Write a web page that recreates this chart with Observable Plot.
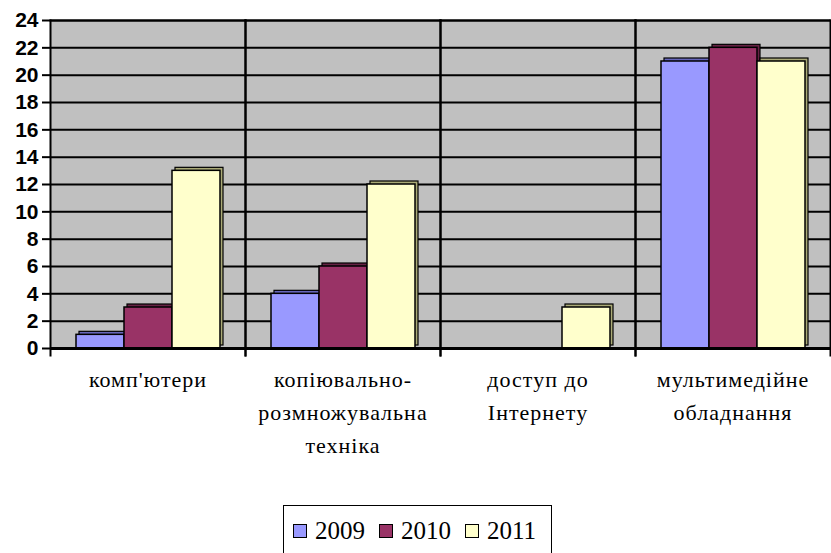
<!DOCTYPE html>
<html>
<head>
<meta charset="utf-8">
<script src="https://cdn.jsdelivr.net/npm/d3@7"></script>
<script src="https://cdn.jsdelivr.net/npm/@observablehq/plot@0.6"></script>
<style>
  html, body { margin: 0; padding: 0; background: #fff; }
  #wrap { position: relative; width: 831px; height: 553px; overflow: hidden; }
  #legend {
    position: absolute; left: 283px; top: 505px; width: 269px; height: 60px;
    border: 1.5px solid #000; box-sizing: border-box;
    font-family: "Liberation Serif", serif; font-size: 25px;
    display: flex; align-items: flex-start; padding-top: 10px; padding-left: 9px;
  }
  .item { display: flex; align-items: center; margin-right: 14px; line-height: 30px; }
  .sw { width: 12px; height: 12px; border: 1.5px solid #000; margin-right: 8px; }
  svg .catlab text, svg text.catlab { letter-spacing: 1px; }
</style>
</head>
<body>
<div id="wrap"><div id="chart"></div><div id="legend"></div></div>
<script>
const categories = ["комп'ютери", "копіювально-\nрозмножувальна\nтехніка", "доступ до\nІнтернету", "мультимедійне\nобладнання"];
const years = ["2009", "2010", "2011"];
const values2009 = [1, 4, 0, 21];
const values2010 = [3, 6, 0, 22];
const values2011 = [13, 12, 3, 21];
const yTicks = [0, 2, 4, 6, 8, 10, 12, 14, 16, 18, 20, 22, 24];
const colors = ["#9999FF", "#993366", "#FFFFCC"];
const sideColors = ["#6666BB", "#662244", "#AAAA77"];

const series = [values2009, values2010, values2011];
const rows = [];
categories.forEach((c, i) => years.forEach((yr, j) => rows.push({category: c, year: yr, value: series[j][i]})));

const chart = Plot.plot({
  width: 831,
  height: 553,
  marginLeft: 50,
  marginRight: 1,
  marginTop: 20,
  marginBottom: 205,
  fx: {domain: categories, paddingInner: 0, paddingOuter: 0, axis: null, label: null},
  x: {domain: years, paddingInner: 0, paddingOuter: 0.53, axis: null, label: null},
  y: {domain: [0, 24], axis: null, label: null},
  color: {domain: years, range: colors},
  style: {background: "transparent"},
  marks: [
    Plot.frame({fill: "#C0C0C0", stroke: null}),
    Plot.gridY(yTicks, {stroke: "#000", strokeOpacity: 1, strokeWidth: 2}),
    Plot.rectY(rows, {fx: "category", x: "year", y: "value", fill: d => sideColors[years.indexOf(d.year)], stroke: "#000", strokeWidth: 1.2, dx: 3, dy: -3}),
    Plot.barY(rows, {fx: "category", x: "year", y: "value", fill: "year", stroke: "#000", strokeWidth: 1.5}),
    Plot.frame({anchor: "left", stroke: "#000", strokeWidth: 2, insetBottom: -7}),
    Plot.frame({anchor: "right", stroke: "#000", strokeWidth: 2, insetBottom: -7}),
    Plot.frame({anchor: "top", stroke: "#000", strokeWidth: 2}),
    Plot.ruleY([0], {stroke: "#000", strokeWidth: 3}),
    Plot.axisY(yTicks, {tickSize: 8, tickPadding: 4, strokeWidth: 2, stroke: "#000", fill: "#000", label: null,
      fontSize: 21, fontWeight: "bold", fontFamily: "Liberation Sans"}),
    Plot.text(categories, {fx: d => d, text: d => d, frameAnchor: "bottom", lineAnchor: "top", dy: 15,
      fontSize: 22, lineHeight: 1.5, fill: "#000", fontFamily: "Liberation Serif", className: "catlab"})
  ]
});
document.getElementById("chart").appendChild(chart);

const legend = document.getElementById("legend");
years.forEach((yr, i) => {
  const item = document.createElement("div");
  item.className = "item";
  const sw = document.createElement("div");
  sw.className = "sw";
  sw.style.background = colors[i];
  const t = document.createElement("span");
  t.textContent = yr;
  item.appendChild(sw);
  item.appendChild(t);
  legend.appendChild(item);
});
</script>
</body>
</html>
